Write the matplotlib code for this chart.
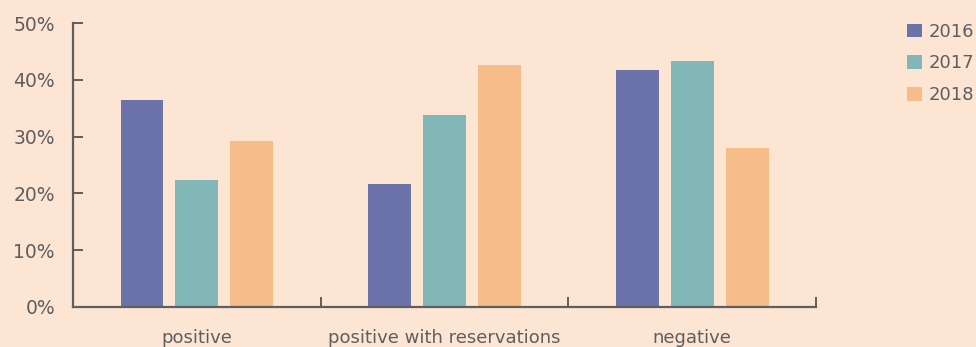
import numpy as np
import matplotlib.pyplot as plt
from matplotlib.patches import Patch
from matplotlib.ticker import FuncFormatter

## Data
categories = ['positive', 'positive with reservations', 'negative']
years = ['2016', '2017', '2018']
share_2016 = [36.4, 21.7, 41.7]
share_2017 = [22.4, 33.8, 43.3]
share_2018 = [29.2, 42.6, 28.0]

colors = ['#6b73aa', '#81b7b6', '#f6bc8a']
bg = '#fde5d3'
grey = '#5e5e5e'

fig = plt.figure(figsize=(9.76, 3.47), dpi=100, facecolor=bg)
ax = fig.add_axes([0.0748, 0.1153, 0.7613, 0.8184], facecolor=bg)

x = np.arange(len(categories))
width = 0.173
step = 0.2217
series = [share_2016, share_2017, share_2018]
for i, (vals, c) in enumerate(zip(series, colors)):
	ax.bar(x + (i - 1)*step, vals, width, color=c, edgecolor='none', zorder=2)

ax.set_xlim(-0.5, 2.5)
ax.set_ylim(0, 50)
ax.set_yticks(np.arange(0, 51, 10))
ax.yaxis.set_major_formatter(FuncFormatter(lambda v, p: '%d%%' % v))

ax.set_xticks(x)
ax.set_xticklabels(categories)
ax.set_xticks([0.5, 1.5, 2.5], minor=True)

for s in ['top', 'right']:
	ax.spines[s].set_visible(False)
for s in ['left', 'bottom']:
	ax.spines[s].set_color(grey)
	ax.spines[s].set_linewidth(1.6)

ax.tick_params(axis='y', direction='in', length=7, width=1.4, color=grey,
               labelcolor=grey, labelsize=13.5, pad=13)
ax.tick_params(axis='x', which='major', length=0, labelcolor=grey,
               labelsize=13, pad=16)
ax.tick_params(axis='x', which='minor', direction='in', length=7, width=1.4,
               color=grey)

handles = [Patch(facecolor=c, edgecolor='none') for c in colors]
fig.legend(handles, years, loc='upper left', bbox_to_anchor=(0.922, 0.955),
           frameon=False, fontsize=13, labelcolor=grey, handlelength=0.8,
           handleheight=0.8, handletextpad=0.4, labelspacing=0.75,
           borderaxespad=0)

fig.savefig('out.png', dpi=100, facecolor=bg)
